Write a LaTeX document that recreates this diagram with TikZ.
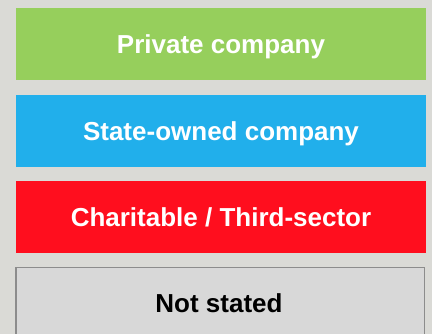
\documentclass[tikz,border=0pt]{standalone}
\usepackage{fontspec}
\setmainfont{Liberation Sans}
\definecolor{bgc}{RGB}{218,218,214}
\definecolor{greenc}{RGB}{150,207,92}
\definecolor{bluec}{RGB}{33,175,235}
\definecolor{redc}{RGB}{255,14,30}
\definecolor{grayc}{RGB}{216,216,216}
\definecolor{borderc}{RGB}{140,140,140}
\tikzset{
  catbox/.style={rectangle, inner sep=0pt, minimum width=410pt, minimum height=72pt,
    text height=20pt, text depth=0pt,
    font=\fontsize{26}{30}\selectfont\bfseries, text=white},
  nsbox/.style={rectangle, fill=grayc, draw=borderc, line width=1.5pt,
    minimum width=408.8pt, minimum height=70.5pt, inner sep=0pt}
}
\begin{document}
\begin{tikzpicture}[x=1pt,y=1pt]
\useasboundingbox (0,0) rectangle (432,334);
\clip (0,0) rectangle (432,334);
\fill[bgc] (0,0) rectangle (432,334);
\node[catbox, fill=greenc] (private) at (221,290) {Private company};
\node[catbox, fill=bluec] (state) at (221,203) {State-owned company};
\node[catbox, fill=redc] (charity) at (221,117) {Charitable / Third-sector};
\node[nsbox] (notstated) at (220.15,31) {};
\node[catbox, text=black] (nstext) at (219,31) {Not stated};
\end{tikzpicture}
\end{document}
